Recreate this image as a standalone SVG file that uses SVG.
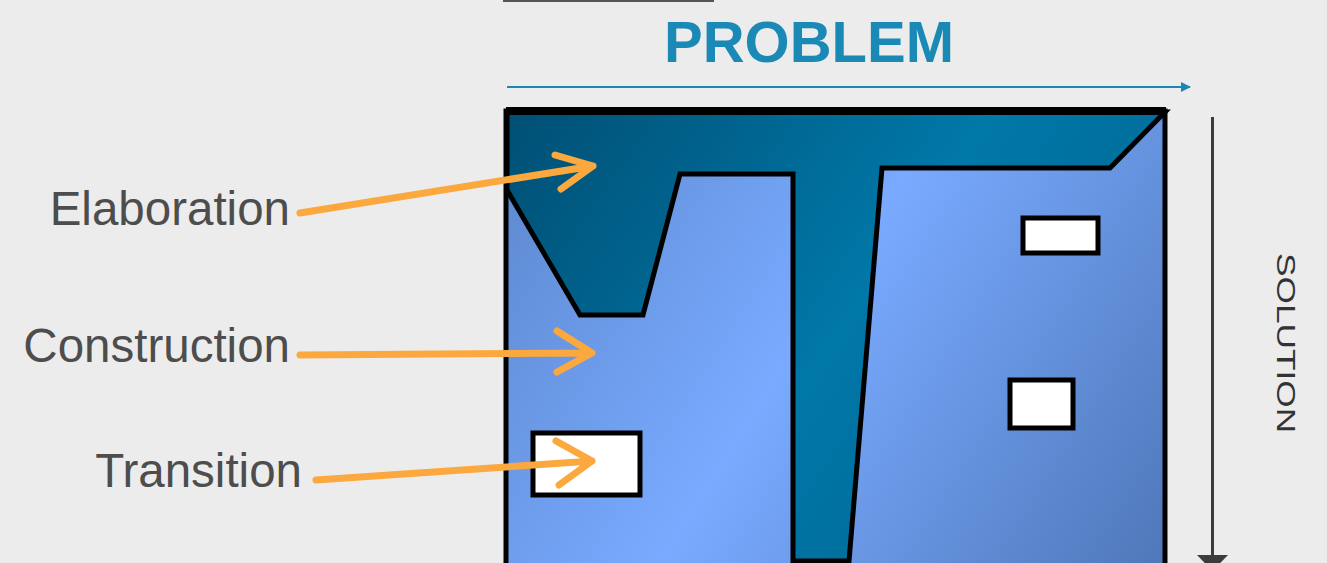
<svg xmlns="http://www.w3.org/2000/svg" width="1327" height="563" viewBox="0 0 1327 563">
<defs>
<linearGradient id="gLight" gradientUnits="userSpaceOnUse" x1="506" y1="150" x2="1165" y2="563">
<stop offset="0" stop-color="#5d89cf"/>
<stop offset="0.45" stop-color="#79aaff"/>
<stop offset="1" stop-color="#4f78b9"/>
</linearGradient>
<linearGradient id="gDark" gradientUnits="userSpaceOnUse" x1="506" y1="111" x2="1165" y2="563">
<stop offset="0" stop-color="#004f74"/>
<stop offset="0.5" stop-color="#0078a8"/>
<stop offset="1" stop-color="#005f8c"/>
</linearGradient>
<marker id="mBlue" markerWidth="10" markerHeight="10" refX="9" refY="5" orient="auto" markerUnits="userSpaceOnUse">
<path d="M0,0 L10,5 L0,10 z" fill="#1a87b5"/>
</marker>
</defs>
<style>
.lbl{font-family:"Liberation Sans",Arial,sans-serif;font-size:47.5px;fill:#4d4d4d;text-anchor:end}
.orange{fill:none;stroke:#fba93e;stroke-width:7;stroke-linecap:round;stroke-linejoin:round}
.box{fill:#ffffff;stroke:#000;stroke-width:5}
</style>
<rect x="0" y="0" width="1327" height="563" fill="#ececec"/>
<line x1="503" y1="1" x2="714" y2="1" stroke="#555" stroke-width="2"/>
<g id="title">
<text x="809" y="62" text-anchor="middle" font-family="Liberation Sans, Arial, sans-serif" font-weight="bold" font-size="58" fill="#1b89b6">PROBLEM</text>
</g>
<g id="diagram">
<rect x="506" y="111" width="659" height="500" fill="url(#gLight)" stroke="#000" stroke-width="5"/>
<polygon points="507,112 1165,112 1110,168 882,168 849,561 793,561 793,174 680,174 643,315 580,315 507,190" fill="url(#gDark)" stroke="#000" stroke-width="5" stroke-linejoin="miter"/>
<line x1="506" y1="111" x2="1166" y2="111" stroke="#000" stroke-width="8"/>
</g>
<g id="box-transition"><rect x="533" y="433" width="107" height="62" class="box"/></g>
<g id="box-upper-right"><rect x="1023" y="218" width="75" height="35" class="box"/></g>
<g id="box-lower-right"><rect x="1010" y="380" width="63" height="48" class="box"/></g>
<g id="label-elaboration"><text x="290" y="225" class="lbl">Elaboration</text></g>
<g id="label-construction"><text x="290" y="362" class="lbl">Construction</text></g>
<g id="label-transition"><text x="302" y="487" class="lbl">Transition</text></g>
<g id="label-solution">
<text transform="translate(1277,253) rotate(90) scale(1.41,1)" font-family="Liberation Sans, Arial, sans-serif" font-size="25" fill="#333333">SOLUTION</text>
</g>
<g id="connectors">
<line x1="507" y1="87" x2="1190" y2="87" stroke="#1a87b5" stroke-width="2" marker-end="url(#mBlue)"/>
<line x1="1212.5" y1="117" x2="1212.5" y2="558" stroke="#3c3c3c" stroke-width="3"/>
<polygon points="1197,555 1228,555 1212.5,571" fill="#3c3c3c"/>
<path class="orange" d="M300,213 L593,166 M555,155 L593,166 L561,189"/>
<path class="orange" d="M300,355 L592,353 M557,331 L592,353 L557,372"/>
<path class="orange" d="M316,480 L592,461 M556,441 L592,461 L559,485"/>
</g>
</svg>
